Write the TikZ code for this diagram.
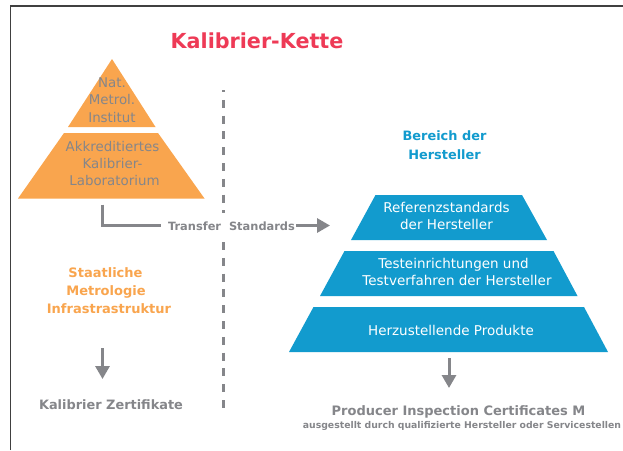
\documentclass[tikz,border=0pt]{standalone}
\usepackage{fontspec}
\setmainfont{DejaVu Sans}
\definecolor{orangeF}{HTML}{F9A54E}
\definecolor{blueF}{HTML}{129BCE}
\definecolor{greyT}{HTML}{85868A}
\definecolor{redT}{HTML}{EE3A56}
\usetikzlibrary{arrows.meta}
\tikzset{
  lbl/.style={align=center,inner sep=0pt},
  greylbl/.style={lbl,text=greyT},
  whitelbl/.style={lbl,text=white},
  arr/.style={draw=greyT,line width=3pt,-{Triangle[length=13pt,width=14pt]}},
  dashline/.style={greyT,line width=2.5pt},
}
\begin{document}
\begin{tikzpicture}[x=1pt,y=-1pt]
\useasboundingbox (0,0) rectangle (623,450);
\fill[white] (0,0) rectangle (623,450);
\draw[color=black!75,line width=1.1pt] (10.5,450) -- (10.5,6) -- (623,6);
\node[lbl,text=redT,font=\fontsize{20.7}{24}\selectfont\bfseries] (title) at (257,40.5) {Kalibrier-Kette};
\fill[orangeF] (112,59) -- (155.5,127) -- (68,127) -- cycle;
\fill[orangeF] (64,133) -- (158,133) -- (204.5,198.5) -- (18,198.5) -- cycle;
\node[greylbl,font=\fontsize{13.4}{17.3}\selectfont] (nat) at (112,100) {Nat.\\Metrol.\\Institut};
\node[greylbl,font=\fontsize{13.4}{17.3}\selectfont] (akk) at (112.5,163.5) {Akkreditiertes\\Kalibrier-\\\mbox{\kern4pt Laboratorium}};
\draw[dashline,dash pattern=on 8pt off 7.8pt,dash phase=6pt] (223.7,90) -- (223.7,213);
\draw[dashline,dash pattern=on 8pt off 7.8pt] (223.7,242) -- (223.7,408);
\coordinate (start) at (102.5,204.5);
\coordinate (bend) at (161,225);
\node[greylbl,font=\fontsize{11.4}{13}\selectfont\bfseries] (ts) at (231.5,226.5) {Transfer\ \ Standards};
\draw[greyT,line width=3pt] (start) |- (bend);
\coordinate (tsbeg) at (296,225.5);
\coordinate (tsend) at (330,225.5);
\draw[arr] (tsbeg) -- (tsend);
\fill[blueF] (375.5,195) -- (522,195) -- (547,240) -- (351,240) -- cycle;
\fill[blueF] (344.5,251) -- (553.5,251) -- (577.5,296) -- (320,296) -- cycle;
\fill[blueF] (313.5,307) -- (584,307) -- (608,352) -- (289,352) -- cycle;
\node[whitelbl,font=\fontsize{13.5}{17}\selectfont] (ref) at (446.5,215.5) {Referenzstandards\\der Hersteller};
\node[whitelbl,font=\fontsize{13.5}{17}\selectfont] (test) at (457,272) {\mbox{Testeinrichtungen und\kern7pt}\\Testverfahren der Hersteller};
\node[whitelbl,font=\fontsize{13.5}{17}\selectfont] (herz) at (451,330) {Herzustellende Produkte};
\node[lbl,text=blueF,font=\fontsize{12.9}{19}\selectfont\bfseries] (ber) at (444.5,145) {Bereich der\\Hersteller};
\node[lbl,text=orangeF,font=\fontsize{13}{18}\selectfont\bfseries] (staat) at (109,291) {\mbox{Staatliche\kern7pt}\\\mbox{Metrologie\kern6pt}\\Infrastrastruktur};
\coordinate (a1) at (102.5,348);
\coordinate (a2) at (102.5,379);
\draw[arr] (a1) -- (a2);
\node[greylbl,font=\fontsize{12.9}{15}\selectfont\bfseries] (kal) at (111,405) {Kalibrier Zertifikate};
\coordinate (b1) at (449,358);
\coordinate (b2) at (449,388);
\draw[arr] (b1) -- (b2);
\node[greylbl,font=\fontsize{13}{15}\selectfont\bfseries] (prod) at (458.5,411.5) {Producer Inspection Certificates M};
\node[greylbl,font=\fontsize{9.3}{11}\selectfont\bfseries] (aus) at (462,426) {ausgestellt durch qualifizierte Hersteller oder Servicestellen};
\end{tikzpicture}
\end{document}
